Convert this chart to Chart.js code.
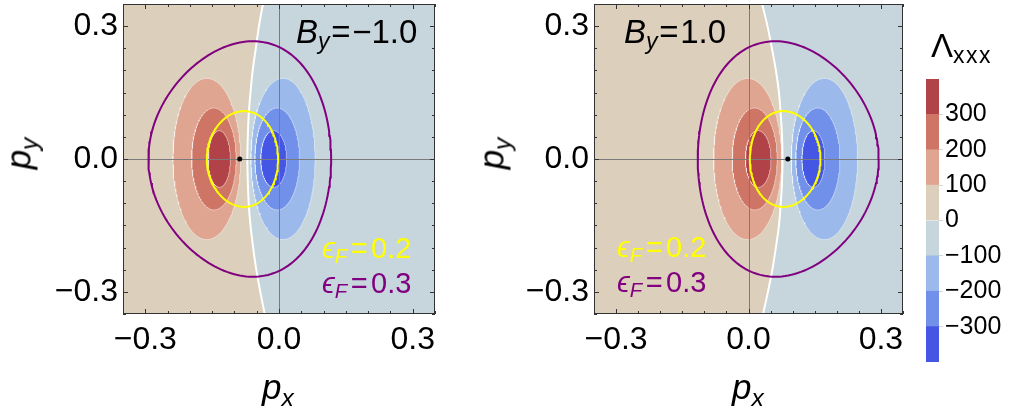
<!DOCTYPE html>
<html>
<head>
<meta charset="utf-8">
<script src="https://cdn.jsdelivr.net/npm/chart.js@4.4.0/dist/chart.umd.min.js"></script>
<style>
html, body { margin: 0; padding: 0; background: #fff; }
#wrap { position: relative; width: 1010px; height: 417px; overflow: hidden; font-family: 'Liberation Sans', Arial, sans-serif; }
.cv { position: absolute; }
.lbl { position: absolute; line-height: 1; white-space: nowrap; color: #000; }
.it { font-style: italic; }
.sub { font-size: 0.7em; position: relative; top: 0.27em; font-style: italic; }
.op { margin: 0 0.05em; }
.op2 { margin: 0 0.12em; }
.rot { width: 60px; height: 35px; text-align: center; transform: rotate(-90deg); }
</style>
</head>
<body>
<div id="wrap">
  <div class="cv" style="left:0;top:0;width:440px;height:417px"><canvas id="leftPanel"></canvas></div>
  <div class="cv" style="left:470px;top:0;width:440px;height:417px"><canvas id="rightPanel"></canvas></div>
  <div class="cv" style="left:905px;top:0;width:105px;height:417px"><canvas id="colorBar"></canvas></div>

  <div class="lbl" style="left:296px;top:15px;font-size:33px"><span class="it">B</span><span class="sub">y</span><span class="op">=</span>−1.0</div>
  <div class="lbl" style="left:624px;top:15px;font-size:33px"><span class="it">B</span><span class="sub">y</span><span class="op">=</span>1.0</div>

  <div class="lbl" style="left:322px;top:234px;font-size:29px;color:#ffff00"><span class="it">ϵ</span><span class="sub">F</span><span class="op2">=</span>0.2</div>
  <div class="lbl" style="left:322px;top:269px;font-size:29px;color:#800080"><span class="it">ϵ</span><span class="sub">F</span><span class="op2">=</span>0.3</div>
  <div class="lbl" style="left:617px;top:233px;font-size:29px;color:#ffff00"><span class="it">ϵ</span><span class="sub">F</span><span class="op2">=</span>0.2</div>
  <div class="lbl" style="left:617px;top:268px;font-size:29px;color:#800080"><span class="it">ϵ</span><span class="sub">F</span><span class="op2">=</span>0.3</div>

  <div class="lbl" style="left:262px;top:369px;font-size:35px"><span class="it">p</span><span class="sub">x</span></div>
  <div class="lbl" style="left:732px;top:369px;font-size:35px"><span class="it">p</span><span class="sub">x</span></div>
  <div class="lbl rot" style="left:-12px;top:136px;font-size:35px"><span class="it">p</span><span class="sub">y</span></div>
  <div class="lbl rot" style="left:461px;top:136px;font-size:35px"><span class="it">p</span><span class="sub">y</span></div>

  <div class="lbl" style="left:931px;top:29px;font-size:33px">Λ<span style="font-size:23px;position:relative;top:6px;letter-spacing:1.5px">xxx</span></div>
</div>

<script>
// axes
const pRange = [-0.35, 0.35];
const axisTicks = [-0.3, 0, 0.3];
const axisTickLabels = ['−0.3', '0.0', '0.3'];
const minorTicks = [-0.35, -0.3, -0.25, -0.2, -0.15, -0.1, -0.05, 0, 0.05, 0.1, 0.15, 0.2, 0.25, 0.3, 0.35];

// colour bar levels of Lambda_xxx
const levels = [-400, -300, -200, -100, 0, 100, 200, 300, 400];
const levelTicks = [-300, -200, -100, 0, 100, 200, 300];
const levelTickLabels = ['−300', '−200', '−100', '0', '100', '200', '300'];
const bandColors = ['#4456e3', '#7090ea', '#9bb9ea', '#c6d6dc', '#dccfbb', '#dfa590', '#cf7565', '#b14348'];

// zero contour (white line), p_x read at these p_y
const zeroPy = [0.35, 0.3, 0.25, 0.2, 0.15, 0.1, 0.05, 0, -0.05, -0.1, -0.15, -0.2, -0.25, -0.3, -0.35];
const leftZeroPx = [-0.036, -0.045, -0.052, -0.059, -0.064, -0.068, -0.070, -0.071, -0.070, -0.068, -0.064, -0.058, -0.051, -0.042, -0.032];
const rightZeroPx = [0.031, 0.043, 0.053, 0.062, 0.069, 0.073, 0.076, 0.077, 0.076, 0.073, 0.069, 0.062, 0.054, 0.044, 0.033];

// lobes at |Lambda| = 100, 200, 300 (centre p_x, half widths)
const lobeRy = [0.182, 0.115, 0.064];
const leftRedCx = [-0.162, -0.146, -0.134];
const leftRedRx = [0.076, 0.050, 0.025];
const leftBlueCx = [0.009, -0.004, -0.012];
const leftBlueRx = [0.072, 0.050, 0.029];
const rightRedCx = [-0.002, 0.014, 0.022];
const rightRedRx = [0.077, 0.051, 0.029];
const rightBlueCx = [0.172, 0.157, 0.147];
const rightBlueRx = [0.075, 0.050, 0.026];

// Fermi contours eps_F = 0.2, 0.3
const fermiLevels = [0.2, 0.3];
const fermiRx = [0.080, 0.205];
const fermiRy = [0.108, 0.263];
const leftFermiCx = [-0.082, -0.088];
const rightFermiCx = [0.083, 0.090];
const leftFermiSkew = [0.05, 0.15];
const rightFermiSkew = [-0.05, -0.15];

// band touching point
const leftDot = [-0.088];
const rightDot = [0.089];

const FONT = "'Liberation Sans', Arial, sans-serif";

function ring(cx, rx, ry, skew) {
    const pts = [];
    for (let i = 0; i <= 180; i++) {
        const t = i / 180 * 2 * Math.PI;
        pts.push({ x: cx + rx * Math.cos(t), y: ry * Math.sin(t) * (1 + skew * Math.cos(t)) });
    }
    return pts;
}

function zeroLine(px) {
    return zeroPy.map((y, i) => ({ x: px[i], y: y }));
}

// frame, inward ticks and the zero cross lines
const framePlugin = {
    id: 'frame',
    afterDatasetDraw(chart, args) {
        if (args.index !== chart.$crossAfter) return;
        const { ctx, chartArea: a, scales: { x, y } } = chart;
        ctx.save();
        ctx.strokeStyle = '#7a7a7a';
        ctx.lineWidth = 1;
        const x0 = Math.round(x.getPixelForValue(0)) + 0.5;
        const y0 = Math.round(y.getPixelForValue(0)) + 0.5;
        ctx.beginPath();
        ctx.moveTo(x0, a.top); ctx.lineTo(x0, a.bottom);
        ctx.moveTo(a.left, y0); ctx.lineTo(a.right, y0);
        ctx.stroke();
        ctx.restore();
    },
    afterDraw(chart) {
        const { ctx, chartArea: a, scales: { x, y } } = chart;
        ctx.save();
        ctx.strokeStyle = '#333';
        ctx.lineWidth = 1;
        ctx.strokeRect(a.left + 0.5, a.top + 0.5, a.right - a.left - 1, a.bottom - a.top - 1);
        ctx.beginPath();
        minorTicks.forEach(v => {
            const len = axisTicks.includes(v) ? 5 : 3;
            const px = Math.round(x.getPixelForValue(v)) + 0.5;
            const py = Math.round(y.getPixelForValue(v)) + 0.5;
            ctx.moveTo(px, a.bottom); ctx.lineTo(px, a.bottom - len);
            ctx.moveTo(px, a.top); ctx.lineTo(px, a.top + len);
            ctx.moveTo(a.left, py); ctx.lineTo(a.left + len, py);
            ctx.moveTo(a.right, py); ctx.lineTo(a.right - len, py);
        });
        ctx.stroke();
        ctx.restore();
    }
};

function makePanel(id, p) {
    const ds = [];
    const add = d => {
        d.order = 1000 - ds.length;
        if (d.showLine === undefined) d.showLine = true;
        d.pointRadius = d.pointRadius || 0;
        ds.push(d);
    };
    const zero = zeroLine(p.zeroPx);

    // beige half (Lambda > 0) and blue-grey half (Lambda < 0)
    add({ data: [{ x: pRange[0], y: pRange[1] }, ...zero, { x: pRange[0], y: pRange[0] }],
          fill: 'shape', backgroundColor: bandColors[4], borderWidth: 0 });
    add({ data: [{ x: pRange[1], y: pRange[1] }, ...zero, { x: pRange[1], y: pRange[0] }],
          fill: 'shape', backgroundColor: bandColors[3], borderWidth: 0 });

    for (let i = 0; i < 3; i++) {
        add({ data: ring(p.redCx[i], p.redRx[i], lobeRy[i], 0), fill: 'shape',
              backgroundColor: bandColors[5 + i], borderColor: 'rgba(255,255,255,0.45)', borderWidth: 1 });
        add({ data: ring(p.blueCx[i], p.blueRx[i], lobeRy[i], 0), fill: 'shape',
              backgroundColor: bandColors[2 - i], borderColor: 'rgba(255,255,255,0.45)', borderWidth: 1 });
    }

    add({ data: zero, fill: false, borderColor: '#ffffff', borderWidth: 2, tension: 0.4 });
    const crossAfter = ds.length - 1;

    const fermiColors = ['#ffff00', '#800080'];
    fermiLevels.forEach((lv, i) => {
        add({ label: 'eF=' + lv, data: ring(p.fermiCx[i], fermiRx[i], fermiRy[i], p.fermiSkew[i]),
              fill: false, borderColor: fermiColors[i], borderWidth: 2 });
    });

    add({ data: p.dot.map(v => ({ x: v, y: 0 })), showLine: false, pointRadius: 2.5,
          pointBackgroundColor: '#000', pointBorderWidth: 0 });

    const chart = new Chart(document.getElementById(id), {
        type: 'scatter',
        data: { datasets: ds },
        options: {
            animation: false,
            responsive: true,
            maintainAspectRatio: false,
            layout: { padding: { top: 2, right: p.padRight, left: 0, bottom: 0 } },
            plugins: { legend: { display: false }, tooltip: { enabled: false } },
            scales: {
                x: {
                    type: 'linear', min: pRange[0], max: pRange[1],
                    grid: { display: false, drawTicks: false }, border: { display: false },
                    afterBuildTicks: s => { s.ticks = axisTicks.map(v => ({ value: v })); },
                    afterFit: s => { s.height = 103; s.paddingLeft = 0; s.paddingRight = 0; },
                    ticks: { font: { family: FONT, size: 32 }, color: '#000', padding: 7, maxRotation: 0,
                             autoSkip: false, callback: (v, i) => axisTickLabels[i] }
                },
                y: {
                    type: 'linear', min: pRange[0], max: pRange[1],
                    grid: { display: false, drawTicks: false }, border: { display: false },
                    afterBuildTicks: s => { s.ticks = axisTicks.map(v => ({ value: v })); },
                    afterFit: s => { s.width = p.yWidth; s.paddingTop = 0; s.paddingBottom = 0; },
                    ticks: { font: { family: FONT, size: 32 }, color: '#000', padding: 5,
                             autoSkip: false, callback: (v, i) => axisTickLabels[i] }
                }
            }
        },
        plugins: [framePlugin]
    });
    chart.$crossAfter = crossAfter;
    chart.draw();
}

makePanel('leftPanel', {
    zeroPx: leftZeroPx, redCx: leftRedCx, redRx: leftRedRx, blueCx: leftBlueCx, blueRx: leftBlueRx,
    fermiCx: leftFermiCx, fermiSkew: leftFermiSkew, dot: leftDot, yWidth: 123, padRight: 5
});
makePanel('rightPanel', {
    zeroPx: rightZeroPx, redCx: rightRedCx, redRx: rightRedRx, blueCx: rightBlueCx, blueRx: rightBlueRx,
    fermiCx: rightFermiCx, fermiSkew: rightFermiSkew, dot: rightDot, yWidth: 124, padRight: 7
});

// colour bar as floating bars
new Chart(document.getElementById('colorBar'), {
    type: 'bar',
    data: {
        labels: ['Λxxx'],
        datasets: bandColors.map((c, i) => ({
            data: [[levels[i], levels[i + 1]]],
            backgroundColor: c,
            borderWidth: 0,
            grouped: false,
            barPercentage: 1,
            categoryPercentage: 1
        }))
    },
    options: {
        animation: false,
        responsive: true,
        maintainAspectRatio: false,
        layout: { padding: { top: 79, bottom: 55, left: 21, right: 0 } },
        plugins: { legend: { display: false }, tooltip: { enabled: false } },
        scales: {
            x: { display: false },
            y: {
                position: 'right', min: levels[0], max: levels[levels.length - 1],
                grid: { drawOnChartArea: false, drawTicks: true, tickLength: 4, color: '#d6d6d6' },
                border: { display: false },
                afterBuildTicks: s => { s.ticks = levelTicks.map(v => ({ value: v })); },
                afterFit: s => { s.width = 71; s.paddingTop = 0; s.paddingBottom = 0; },
                ticks: { font: { family: FONT, size: 25 }, color: '#000', padding: 2,
                         autoSkip: false, callback: (v, i) => levelTickLabels[i] }
            }
        }
    }
});
</script>
</body>
</html>
